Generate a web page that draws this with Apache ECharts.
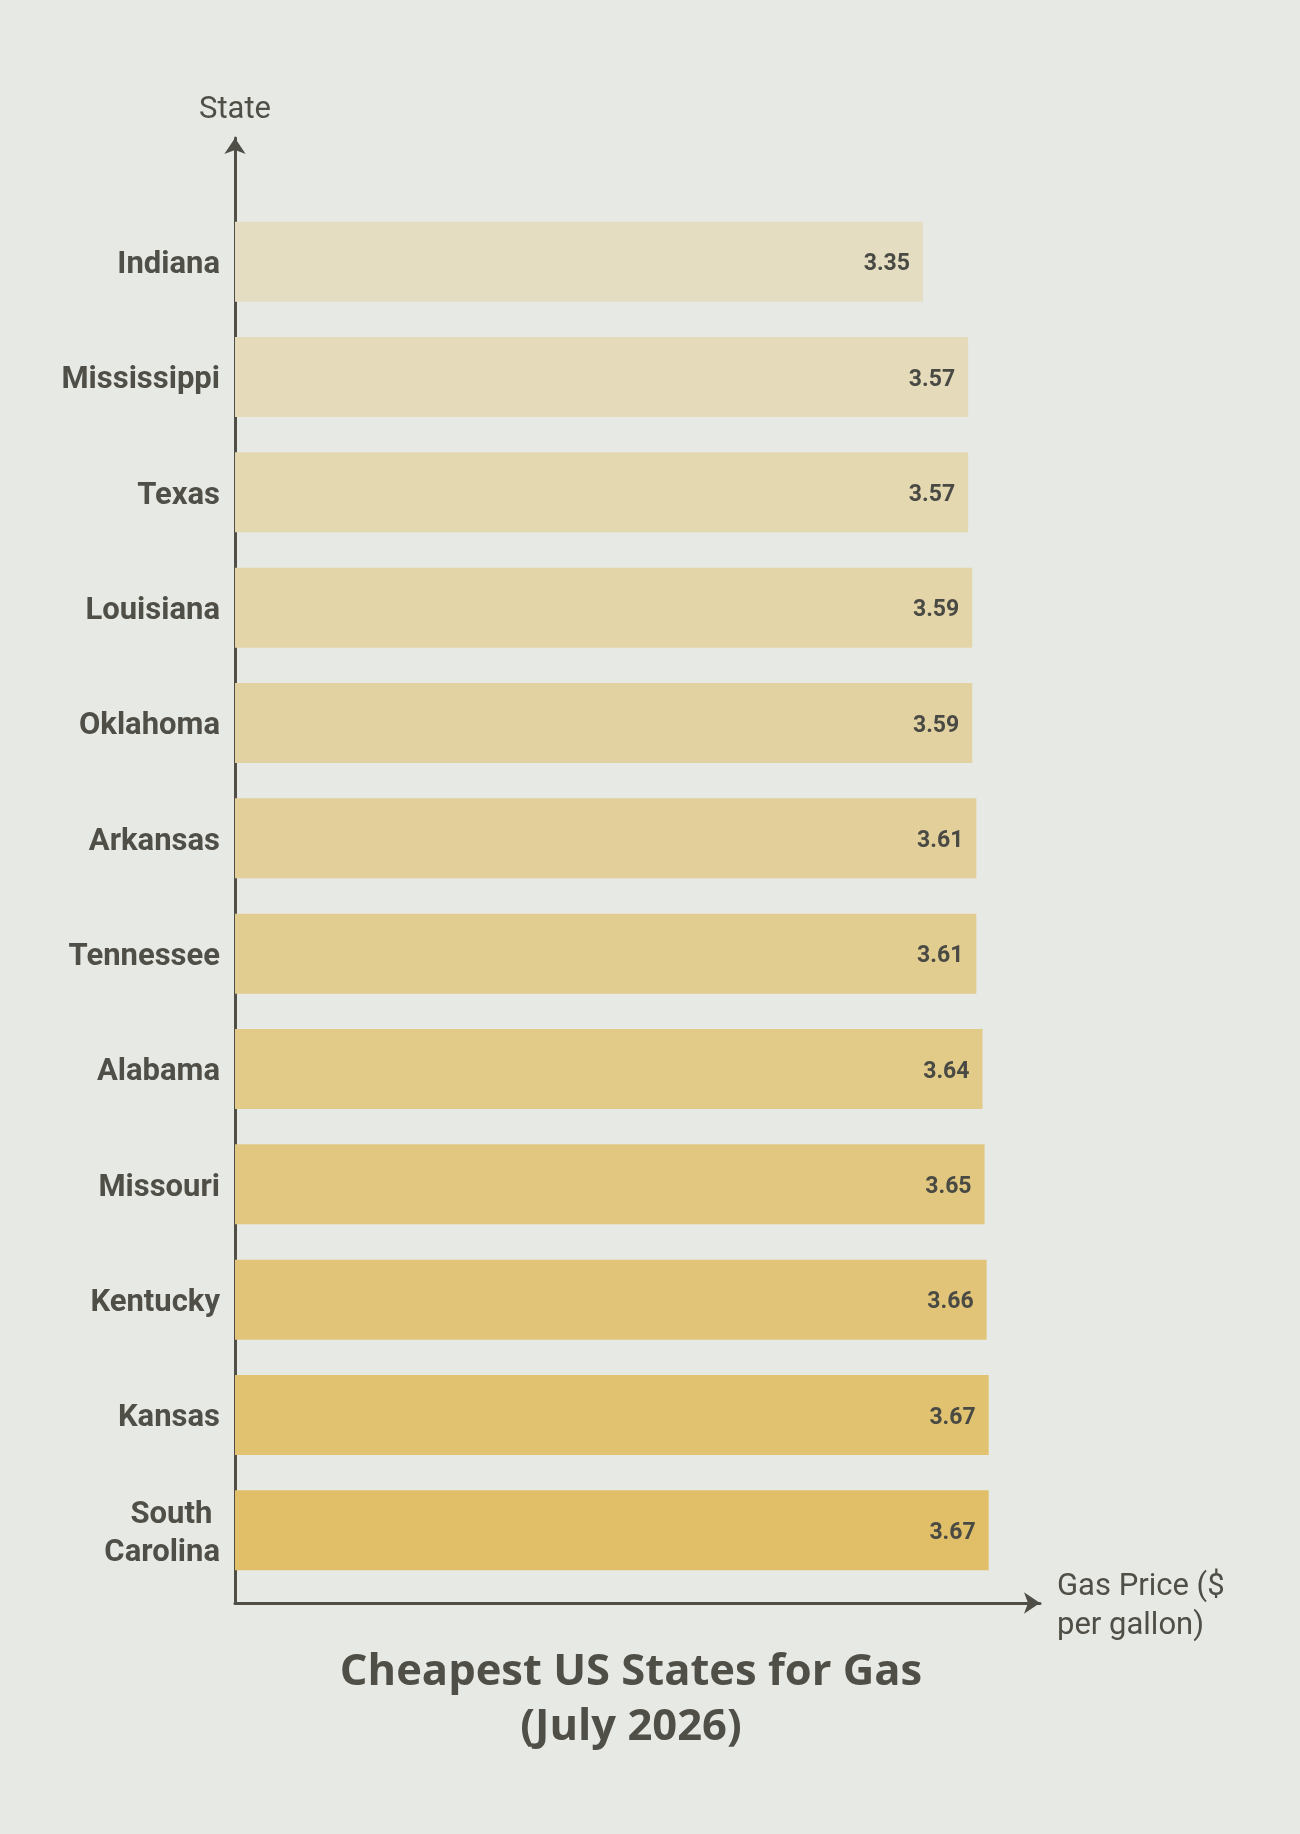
<!DOCTYPE html>
<html>
<head>
<meta charset="utf-8">
<title>Cheapest US States for Gas</title>
<script src="https://cdn.jsdelivr.net/npm/echarts@6/dist/echarts.min.js"></script>
<style>
  html, body { margin: 0; padding: 0; background: #e7e9e5; }
  #main { width: 1300px; height: 1834px; }
</style>
</head>
<body>
<div id="main"></div>
<script>
// data
const states = ['Indiana', 'Mississippi', 'Texas', 'Louisiana', 'Oklahoma', 'Arkansas',
  'Tennessee', 'Alabama', 'Missouri', 'Kentucky', 'Kansas', 'South Carolina']
const prices = [3.35, 3.57, 3.57, 3.59, 3.59, 3.61, 3.61, 3.64, 3.65, 3.66, 3.67, 3.67]

const textColor = '#4f4f47'
const axisColor = '#4f4f47'

// light beige -> gold, top to bottom
const mix = (a, b, t) => Math.round(a + (b - a) * t)
const barColor = (i) => {
  const t = i / (states.length - 1)
  return 'rgb(' + mix(229, 224, t) + ',' + mix(221, 191, t) + ',' + mix(193, 104, t) + ')'
}

const chart = echarts.init(document.getElementById('main'))

const option = {
  backgroundColor: '#e7e9e5',
  animation: false,
  title: {
    text: 'Cheapest US States for Gas\n(July 2026)',
    left: 626,
    top: 1640,
    textAlign: 'center',
    textStyle: {
      fontFamily: 'Open Sans',
      fontWeight: 'bold',
      fontSize: 43.5,
      lineHeight: 55,
      color: textColor
    }
  },
  grid: [
    { left: 235, right: 260, top: 204, bottom: 246 },
    { left: 235, right: 260, top: 138, bottom: 231 }
  ],
  xAxis: [
    {
      gridIndex: 0,
      type: 'value',
      min: 0,
      max: 3.92,
      show: false
    },
    {
      gridIndex: 1,
      type: 'value',
      min: 0,
      max: 1,
      name: '{a|Gas Price ($}\n{a|per gallon)}',
      nameLocation: 'end',
      nameGap: 17,
      nameTextStyle: {
        align: 'left',
        verticalAlign: 'middle',
        rich: {
          a: {
            fontFamily: 'Roboto',
            fontSize: 31,
            lineHeight: 39,
            padding: [8, 0, 0, 0],
            color: textColor
          }
        }
      },
      axisLine: {
        show: true,
        symbol: ['none', 'arrow'],
        symbolSize: [16, 16],
        lineStyle: { color: axisColor, width: 3 }
      },
      axisTick: { show: false },
      axisLabel: { show: false },
      splitLine: { show: false }
    }
  ],
  yAxis: [
    {
      gridIndex: 0,
      type: 'category',
      data: states,
      inverse: true,
      axisLine: { show: false },
      axisTick: { show: false },
      axisLabel: {
        margin: 15,
        width: 172,
        overflow: 'break',
        formatter: (v) => '{a|' + v + '}',
        rich: {
          a: {
            fontFamily: 'Roboto',
            fontWeight: 'bold',
            fontSize: 31,
            lineHeight: 38,
            padding: [7, 0, 0, 0],
            color: textColor
          }
        }
      }
    },
    {
      gridIndex: 1,
      type: 'value',
      min: 0,
      max: 1,
      name: 'State',
      nameLocation: 'end',
      nameGap: 12,
      nameTextStyle: {
        fontFamily: 'Roboto',
        fontSize: 31,
        color: textColor,
        align: 'center'
      },
      axisLine: {
        show: true,
        symbol: ['none', 'arrow'],
        symbolSize: [16, 16],
        lineStyle: { color: axisColor, width: 3 }
      },
      axisTick: { show: false },
      axisLabel: { show: false },
      splitLine: { show: false }
    }
  ],
  series: [
    {
      type: 'bar',
      xAxisIndex: 0,
      yAxisIndex: 0,
      barWidth: 80,
      data: prices.map((v, i) => ({ value: v, itemStyle: { color: barColor(i) } })),
      label: {
        show: true,
        position: 'insideRight',
        distance: 13,
        offset: [0, 3],
        fontFamily: 'Roboto',
        fontWeight: 'bold',
        fontSize: 23,
        color: '#4a4a44',
        formatter: (p) => p.value.toFixed(2)
      }
    }
  ]
}

chart.setOption(option)
</script>
</body>
</html>
